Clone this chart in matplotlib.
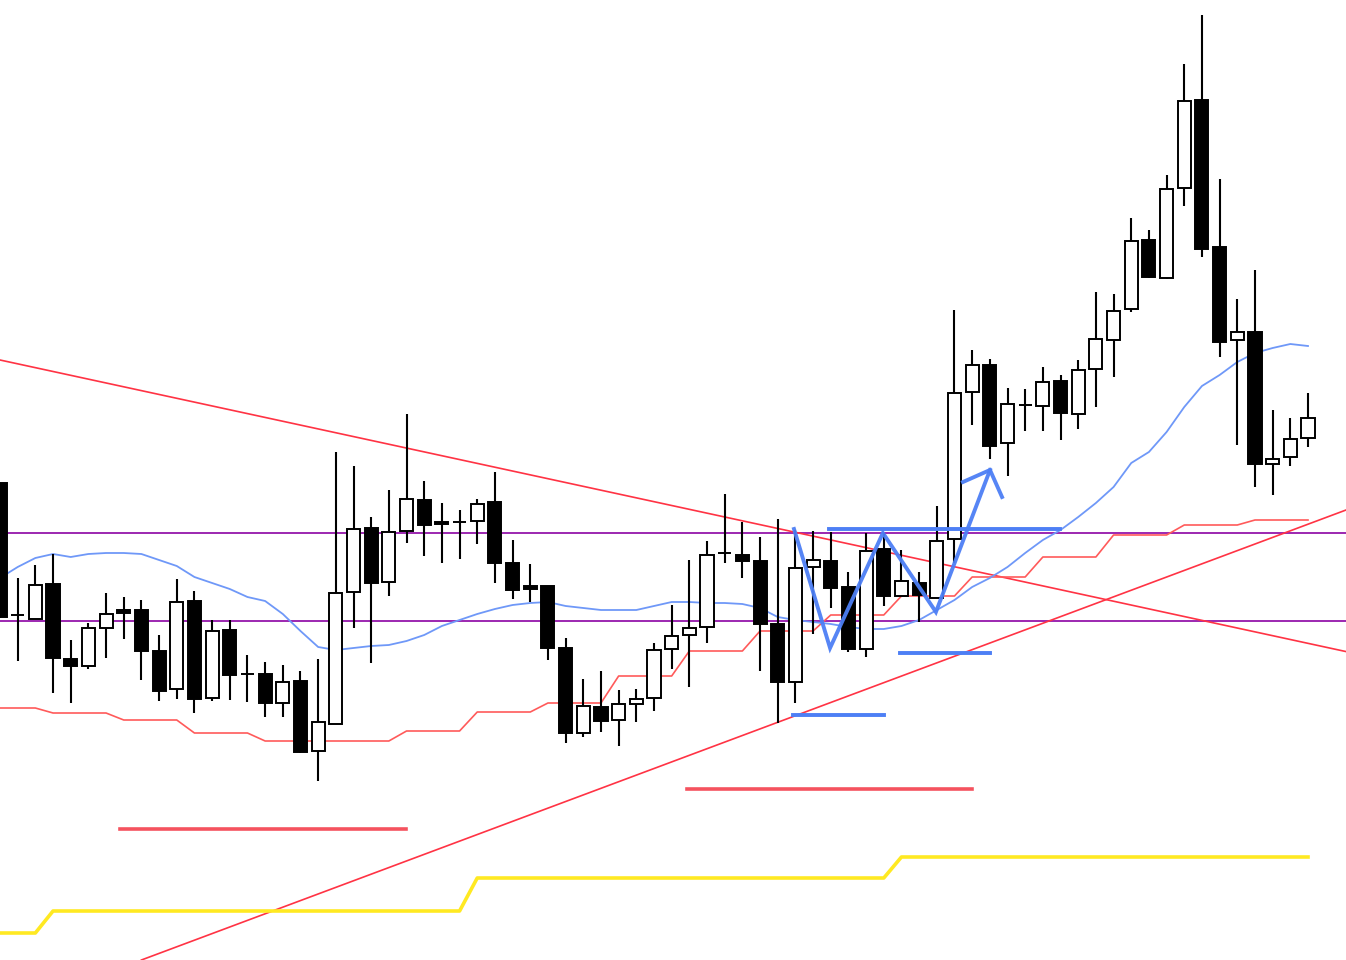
# -*- coding: utf-8 -*-
import matplotlib
matplotlib.use('Agg')
from matplotlib import pyplot as plt
from matplotlib.patches import Rectangle

# ローソク足 (始値, 高値, 安値, 終値)
opens = [155.17, 153.85, 153.81, 154.16, 153.41, 153.34, 153.72, 153.90, 153.90, 153.49,
         153.11, 153.99, 153.02, 153.70, 153.26, 153.26, 152.97, 153.19, 152.49, 152.76,
         154.08, 154.72, 154.18, 154.69, 155.00, 154.78, 154.78, 154.79, 154.98, 154.37,
         154.14, 154.14, 153.52, 152.67, 152.93, 152.80, 152.96, 153.02, 153.51, 153.65,
         153.73, 154.47, 154.45, 154.39, 153.76, 153.18, 154.33, 154.39, 154.13, 153.51,
         154.51, 154.04, 154.17, 154.02, 154.61, 156.08, 156.35, 155.57, 155.95, 155.94,
         156.19, 155.86, 156.31, 156.60, 156.91, 157.60, 157.22, 158.12, 159.00, 157.53,
         156.60, 156.68, 155.36, 155.43, 155.62]
highs = [155.17, 154.22, 154.35, 154.46, 153.60, 153.77, 154.07, 154.03, 154.00, 153.65,
         154.21, 154.09, 153.80, 153.80, 153.45, 153.38, 153.35, 153.29, 153.41, 155.48,
         155.34, 154.83, 155.10, 155.86, 155.19, 154.97, 154.90, 155.01, 155.28, 154.60,
         154.36, 154.14, 153.62, 153.21, 153.29, 153.10, 153.11, 153.57, 153.95, 154.40,
         154.59, 155.06, 154.78, 154.63, 154.81, 154.70, 154.69, 154.68, 154.28, 154.67,
         154.67, 154.50, 154.28, 154.94, 156.90, 156.50, 156.41, 156.12, 156.11, 156.33,
         156.25, 156.40, 157.08, 157.06, 157.82, 157.70, 158.25, 159.36, 159.85, 158.21,
         157.01, 157.30, 155.90, 155.82, 156.07]
lows = [153.82, 153.39, 153.81, 153.07, 152.97, 153.31, 153.42, 153.61, 153.20, 152.99,
        153.01, 152.87, 152.99, 153.00, 152.98, 152.83, 152.83, 152.47, 152.19, 152.76,
        153.72, 153.37, 154.04, 154.57, 154.44, 154.37, 154.41, 154.56, 154.17, 154.01,
        153.98, 153.40, 152.57, 152.63, 152.68, 152.54, 152.78, 152.89, 153.31, 153.13,
        153.57, 154.37, 154.22, 153.29, 152.77, 152.97, 153.66, 153.92, 153.48, 153.43,
        153.94, 154.04, 153.78, 154.02, 154.37, 155.75, 155.41, 155.24, 155.69, 155.69,
        155.60, 155.71, 155.93, 156.23, 156.88, 157.22, 157.21, 157.94, 157.43, 156.43,
        155.55, 155.13, 155.05, 155.34, 155.53]
closes = [153.83, 153.85, 154.15, 153.42, 153.34, 153.72, 153.86, 153.87, 153.49, 153.09,
          153.98, 153.01, 153.69, 153.25, 153.26, 152.97, 153.18, 152.48, 152.78, 154.07,
          154.71, 154.17, 154.68, 155.01, 154.75, 154.76, 154.78, 154.96, 154.37, 154.10,
          154.11, 153.52, 152.67, 152.94, 152.79, 152.96, 153.01, 153.50, 153.64, 153.72,
          154.45, 154.47, 154.39, 153.76, 153.18, 154.32, 154.40, 154.12, 153.51, 154.49,
          154.04, 154.19, 154.05, 154.59, 156.07, 156.35, 155.54, 155.96, 155.95, 156.18,
          155.87, 156.30, 156.61, 156.89, 157.59, 157.23, 158.11, 158.99, 157.51, 156.58,
          156.68, 155.36, 155.41, 155.61, 155.82]

# 移動平均線
ma_line = [154.22, 154.33, 154.42, 154.46, 154.43, 154.46, 154.47, 154.47, 154.46, 154.40,
           154.34, 154.23, 154.17, 154.11, 154.03, 153.99, 153.86, 153.69, 153.53, 153.50,
           153.52, 153.54, 153.55, 153.59, 153.65, 153.74, 153.80, 153.86, 153.91, 153.95,
           153.97, 153.98, 153.94, 153.92, 153.90, 153.90, 153.90, 153.94, 153.98, 153.98,
           153.97, 153.97, 153.96, 153.92, 153.83, 153.80, 153.78, 153.76, 153.73, 153.71,
           153.71, 153.74, 153.80, 153.90, 154.00, 154.13, 154.22, 154.33, 154.47, 154.60,
           154.70, 154.83, 154.97, 155.13, 155.37, 155.48, 155.68, 155.93, 156.14, 156.25,
           156.38, 156.47, 156.52, 156.56, 156.54]

# 安値ライン (赤ステップ)
low_step = [152.92, 152.92, 152.92, 152.87, 152.87, 152.87, 152.87, 152.80, 152.80, 152.80,
            152.80, 152.67, 152.67, 152.67, 152.67, 152.59, 152.59, 152.59, 152.59, 152.59,
            152.59, 152.59, 152.59, 152.69, 152.69, 152.69, 152.69, 152.88, 152.88, 152.88,
            152.88, 152.97, 152.97, 152.97, 152.97, 153.24, 153.24, 153.24, 153.24, 153.49,
            153.49, 153.49, 153.49, 153.69, 153.69, 153.69, 153.69, 153.85, 153.85, 153.85,
            153.85, 154.04, 154.04, 154.04, 154.04, 154.23, 154.23, 154.23, 154.23, 154.43,
            154.43, 154.43, 154.43, 154.65, 154.65, 154.65, 154.65, 154.75, 154.75, 154.75,
            154.75, 154.80, 154.80, 154.80, 154.80]

# 上位足の安値ライン (黄)
upper_step = [150.67, 150.67, 150.67, 150.89, 150.89, 150.89, 150.89, 150.89, 150.89, 150.89,
              150.89, 150.89, 150.89, 150.89, 150.89, 150.89, 150.89, 150.89, 150.89, 150.89,
              150.89, 150.89, 150.89, 150.89, 150.89, 150.89, 150.89, 151.22, 151.22, 151.22,
              151.22, 151.22, 151.22, 151.22, 151.22, 151.22, 151.22, 151.22, 151.22, 151.22,
              151.22, 151.22, 151.22, 151.22, 151.22, 151.22, 151.22, 151.22, 151.22, 151.22,
              151.22, 151.43, 151.43, 151.43, 151.43, 151.43, 151.43, 151.43, 151.43, 151.43,
              151.43, 151.43, 151.43, 151.43, 151.43, 151.43, 151.43, 151.43, 151.43, 151.43,
              151.43, 151.43, 151.43, 151.43, 151.43]

# 水平線・トレンドライン
purple_levels = [154.67, 153.79]
down_trend = [(0, 156.40), (76, 153.49)]
up_trend = [(8, 150.40), (76, 154.89)]

# 青のマーク (始点, 終点, 価格)
blue_marks = [(46.9, 59.97, 154.71), (50.9, 56.0, 153.47), (44.86, 50.0, 152.85)]
red_marks = [(6.79, 22.97, 151.71), (38.87, 54.99, 152.11)]

# 青のジグザグと矢印
zigzag_x = [44.92, 46.96, 49.95, 52.95, 56.01]
zigzag_y = [154.71, 153.52, 154.67, 153.88, 155.30]
arrow_x = [54.48, 56.01, 56.69]
arrow_y = [155.18, 155.30, 155.03]


def draw_candles(ax, width=0.74):
    for i, (o, h, l, c) in enumerate(zip(opens, highs, lows, closes)):
        ax.plot([i, i], [l, h], color='black', lw=1.5, zorder=3,
                solid_capstyle='butt')
        face = 'white' if c >= o else 'black'
        bottom = min(o, c)
        rect = Rectangle((i - width / 2, bottom), width, abs(c - o),
                         facecolor=face, edgecolor='black', lw=1.4, zorder=4)
        ax.add_patch(rect)


if __name__ == '__main__':
    fig = plt.figure(figsize=(13.46, 9.6), dpi=100)
    ax = fig.add_axes([0, 0, 1, 1])
    ax.set_xlim(0, 76.15)
    ax.set_ylim(150.40, 160.00)
    ax.axis('off')

    n = range(len(closes))

    for lv in purple_levels:
        ax.axhline(lv, color='#9c27b0', lw=1.4, zorder=1)

    ax.axline(down_trend[0], down_trend[1], color='#ff3344', lw=1.2, zorder=1)
    ax.axline(up_trend[0], up_trend[1], color='#ff3344', lw=1.2, zorder=1)

    ax.plot(n, upper_step, color='#ffe922', lw=2.6, zorder=2)
    ax.plot(n, low_step, color='#ff5a5a', lw=1.2, zorder=2)
    ax.plot(n, ma_line, color='#6f98f8', lw=1.3, zorder=2)

    draw_candles(ax)

    for x0, x1, y in red_marks:
        ax.plot([x0, x1], [y, y], color='#f5525e', lw=2.6, zorder=5)
    for x0, x1, y in blue_marks:
        ax.plot([x0, x1], [y, y], color='#4d7ff5', lw=2.8, zorder=5)

    ax.plot(zigzag_x, zigzag_y, color='#4d7ff5', lw=2.8, zorder=5,
            solid_joinstyle='miter', alpha=0.95)
    ax.plot(arrow_x, arrow_y, color='#4d7ff5', lw=2.8, zorder=5,
            solid_joinstyle='miter', alpha=0.95)

    fig.savefig('out.png', dpi=100, facecolor='white')
